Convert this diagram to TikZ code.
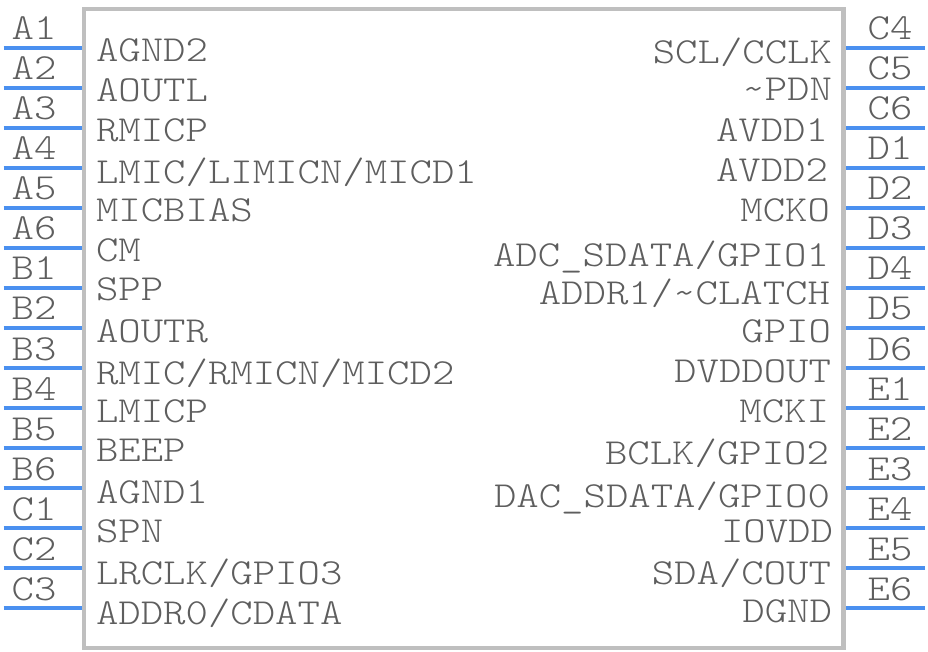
\documentclass[tikz,border=0pt]{standalone}
\usepackage{color}
\definecolor{pinblue}{HTML}{4A90F0}
\definecolor{boxgray}{HTML}{BFBFBF}
\definecolor{textgray}{HTML}{5E5E5E}
\tikzset{every picture/.style={line width=3pt}}
\tikzstyle{pinlabel}=[inner sep=0pt,text=textgray,anchor=base,yscale=0.86,transform shape,font=\fontsize{32}{33}\fontseries{l}\ttfamily\selectfont]
\tikzstyle{leftlabel}=[pinlabel,anchor=base west]
\tikzstyle{rightlabel}=[pinlabel,anchor=base east]
\tikzstyle{pin}=[draw=pinblue,line width=3.2pt]
\begin{document}
\begin{tikzpicture}[x=0.75pt,y=-0.75pt]
\useasboundingbox (0,0) rectangle (928,652);
\node (body) [draw=boxgray,line width=3.2pt,inner sep=0pt,minimum width=569.5pt,minimum height=479.6pt] at (463.8,328.4) {};
% pin names outside the body
\node[pinlabel] (A1) at (34,40) {A1};
\node[pinlabel] (A2) at (34,80) {A2};
\node[pinlabel] (A3) at (34,120) {A3};
\node[pinlabel] (A4) at (34,160) {A4};
\node[pinlabel] (A5) at (34,200) {A5};
\node[pinlabel] (A6) at (34,240) {A6};
\node[pinlabel] (B1) at (34,280) {B1};
\node[pinlabel] (B2) at (34,320) {B2};
\node[pinlabel] (B3) at (34,360) {B3};
\node[pinlabel] (B4) at (34,400) {B4};
\node[pinlabel] (B5) at (34,440) {B5};
\node[pinlabel] (B6) at (34,480) {B6};
\node[pinlabel] (C1) at (34,520) {C1};
\node[pinlabel] (C2) at (34,560) {C2};
\node[pinlabel] (C3) at (34,600) {C3};
\node[pinlabel] (C4) at (890,40) {C4};
\node[pinlabel] (C5) at (890,80) {C5};
\node[pinlabel] (C6) at (890,120) {C6};
\node[pinlabel] (D1) at (890,160) {D1};
\node[pinlabel] (D2) at (890,200) {D2};
\node[pinlabel] (D3) at (890,240) {D3};
\node[pinlabel] (D4) at (890,280) {D4};
\node[pinlabel] (D5) at (890,320) {D5};
\node[pinlabel] (D6) at (890,360) {D6};
\node[pinlabel] (E1) at (890,400) {E1};
\node[pinlabel] (E2) at (890,440) {E2};
\node[pinlabel] (E3) at (890,480) {E3};
\node[pinlabel] (E4) at (890,520) {E4};
\node[pinlabel] (E5) at (890,560) {E5};
\node[pinlabel] (E6) at (890,600) {E6};
% signal names inside the body
\node[leftlabel] (agndtwo) at (94,62) {AGND2};
\node[leftlabel] (aoutl) at (94,102) {AOUTL};
\node[leftlabel] (rmicp) at (94,142) {RMICP};
\node[leftlabel] (lmic) at (94,184) {LMIC/LIMICN/MICD1};
\node[leftlabel] (micbias) at (94,222) {MICBIAS};
\node[leftlabel] (cm) at (94,262) {CM};
\node[leftlabel] (spp) at (94,301) {SPP};
\node[leftlabel] (aoutr) at (94,342) {AOUTR};
\node[leftlabel] (rmic) at (94,384) {RMIC/RMICN/MICD2};
\node[leftlabel] (lmicp) at (94,422) {LMICP};
\node[leftlabel] (beep) at (94,461) {BEEP};
\node[leftlabel] (agndone) at (94,503) {AGND1};
\node[leftlabel] (spn) at (94,542) {SPN};
\node[leftlabel] (lrclk) at (94,584) {LRCLK/GPIO3};
\node[leftlabel] (addrzero) at (94,624) {ADDR0/CDATA};
\node[rightlabel] (scl) at (834,64) {SCL/CCLK};
\node[rightlabel] (pdn) at (834,101) {\textasciitilde PDN};
\node[rightlabel] (avddone) at (830,142) {AVDD1};
\node[rightlabel] (avddtwo) at (830,182) {AVDD2};
\node[rightlabel] (mcko) at (832,222) {MCKO};
\node[rightlabel] (adc) at (831,267) {ADC\_SDATA/GPIO1};
\node[rightlabel] (addrone) at (832,305) {ADDR1/\textasciitilde CLATCH};
\node[rightlabel] (gpio) at (833,342) {GPIO};
\node[rightlabel] (dvddout) at (833,382) {DVDDOUT};
\node[rightlabel] (mcki) at (831,422) {MCKI};
\node[rightlabel] (bclk) at (831,464) {BCLK/GPIO2};
\node[rightlabel] (dac) at (832,507) {DAC\_SDATA/GPIO0};
\node[rightlabel] (iovdd) at (835,542) {IOVDD};
\node[rightlabel] (sda) at (833,584) {SDA/COUT};
\node[rightlabel] (dgnd) at (834,622) {DGND};
% pin lines: free end to the body edge
\foreach \name/\ypos in {A1/47.7,A2/87.7,A3/127.7,A4/167.7,A5/207.7,A6/247.7,B1/287.7,B2/327.7,B3/367.7,B4/407.7,B5/447.7,B6/487.7,C1/527.7,C2/567.7,C3/607.7}
{
\coordinate (\name end) at (3.5,\ypos);
\coordinate (\name edge) at (82,\ypos);
\path[pin] (\name end) edge (\name edge);
}
\foreach \name/\ypos in {C4/47.7,C5/87.7,C6/127.7,D1/167.7,D2/207.7,D3/247.7,D4/287.7,D5/327.7,D6/367.7,E1/407.7,E2/447.7,E3/487.7,E4/527.7,E5/567.7,E6/607.7}
{
\coordinate (\name end) at (925,\ypos);
\coordinate (\name edge) at (846,\ypos);
\path[pin] (\name end) edge (\name edge);
}
\end{tikzpicture}
\end{document}
